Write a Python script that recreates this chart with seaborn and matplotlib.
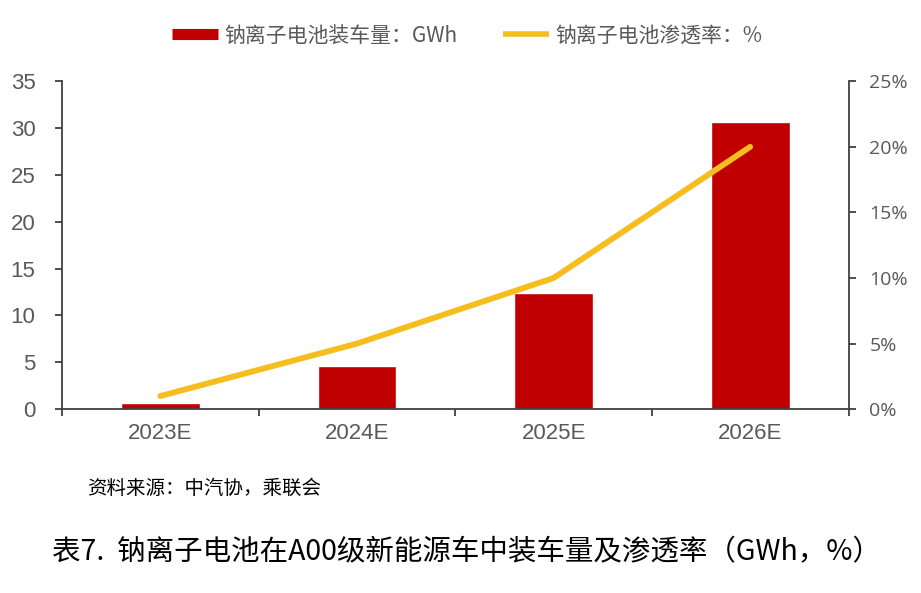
import numpy as np
import pandas as pd
import matplotlib
matplotlib.use("Agg")
import matplotlib.pyplot as plt
import seaborn as sns
from matplotlib.lines import Line2D
from matplotlib.ticker import FuncFormatter

sns.set_style("white")
plt.rcParams["font.family"] = ["Liberation Sans", "Noto Sans CJK SC", "DejaVu Sans"]

# data
years = ["2023E", "2024E", "2025E", "2026E"]
volume_gwh = [0.7, 4.6, 12.4, 30.6]
penetration = [1.0, 5.0, 10.0, 20.0]

bar_label = "钠离子电池装车量：GWh"
line_label = "钠离子电池渗透率：%"
source_text = "资料来源：中汽协，乘联会"
caption = "表7.  钠离子电池在A00级新能源车中装车量及渗透率（GWh，%）"

red = "#C00000"
gold = "#F5BE1E"
grey = "#595959"
cjk = ["Noto Sans CJK SC", "DejaVu Sans"]

df = pd.DataFrame({"year": years, "gwh": volume_gwh, "pct": penetration})

fig = plt.figure(figsize=(9.21, 5.93), dpi=100)
ax = fig.add_axes([0.0673, 0.310, 0.854, 0.553])

sns.barplot(data=df, x="year", y="gwh", color=red, width=0.4, saturation=1, ax=ax)
ax.set_ylim(0, 35)
ax.set_yticks(np.arange(0, 36, 5))
ax.set_xlim(-0.5, 3.5)
ax.set_xlabel("")
ax.set_ylabel("")

ax2 = ax.twinx()
sns.lineplot(x=np.arange(len(years)), y=penetration, color=gold, linewidth=4.2,
             solid_capstyle="round", ax=ax2)
ax2.set_ylim(0, 25)
ax2.set_yticks(np.arange(0, 26, 5))
ax2.yaxis.set_major_formatter(FuncFormatter(lambda v, p: f"{v:.0f}%"))
ax2.set_xlim(-0.5, 3.5)

for a in (ax, ax2):
    a.spines["top"].set_visible(False)
    for s in ["left", "right", "bottom"]:
        a.spines[s].set_color("#404040")
        a.spines[s].set_linewidth(1.3)

ax.spines["right"].set_visible(False)
ax2.spines["left"].set_visible(False)
ax2.spines["bottom"].set_visible(False)

ax.tick_params(axis="y", which="major", direction="out", length=5, width=1.3,
               color="#404040", labelsize=16, labelcolor=grey, pad=14, left=True)
ax2.tick_params(axis="y", which="major", direction="out", length=5, width=1.3,
                color="#404040", labelsize=14, labelcolor=grey, pad=10, right=True)
for t in ax2.get_yticklabels():
    t.set_fontfamily(["Open Sans", "DejaVu Sans"])

# category ticks between the bars
ax.set_xticks(np.arange(len(years)))
ax.set_xticklabels(years)
ax.tick_params(axis="x", which="major", length=0, labelsize=16, labelcolor=grey, pad=10)
ax.set_xticks(np.arange(-0.5, len(years)), minor=True)
ax.tick_params(axis="x", which="minor", direction="out", length=5, width=1.3,
               color="#404040", bottom=True)

handles = [Line2D([0], [0], color=red, linewidth=8, solid_capstyle="butt"),
           Line2D([0], [0], color=gold, linewidth=4, solid_capstyle="butt")]
fig.legend(handles, [bar_label, line_label], loc="center", bbox_to_anchor=(0.507, 0.94),
           ncol=2, frameon=False, handlelength=2.2, handletextpad=0.3,
           columnspacing=2.2, prop={"family": cjk, "size": 15}, labelcolor=grey)

fig.text(0.095, 0.177, source_text, fontsize=14, color="black", family=cjk, va="center")
fig.text(0.056, 0.068, caption, fontsize=20.5, color="black", family=cjk, va="center")

fig.savefig("out.png", dpi=100)
